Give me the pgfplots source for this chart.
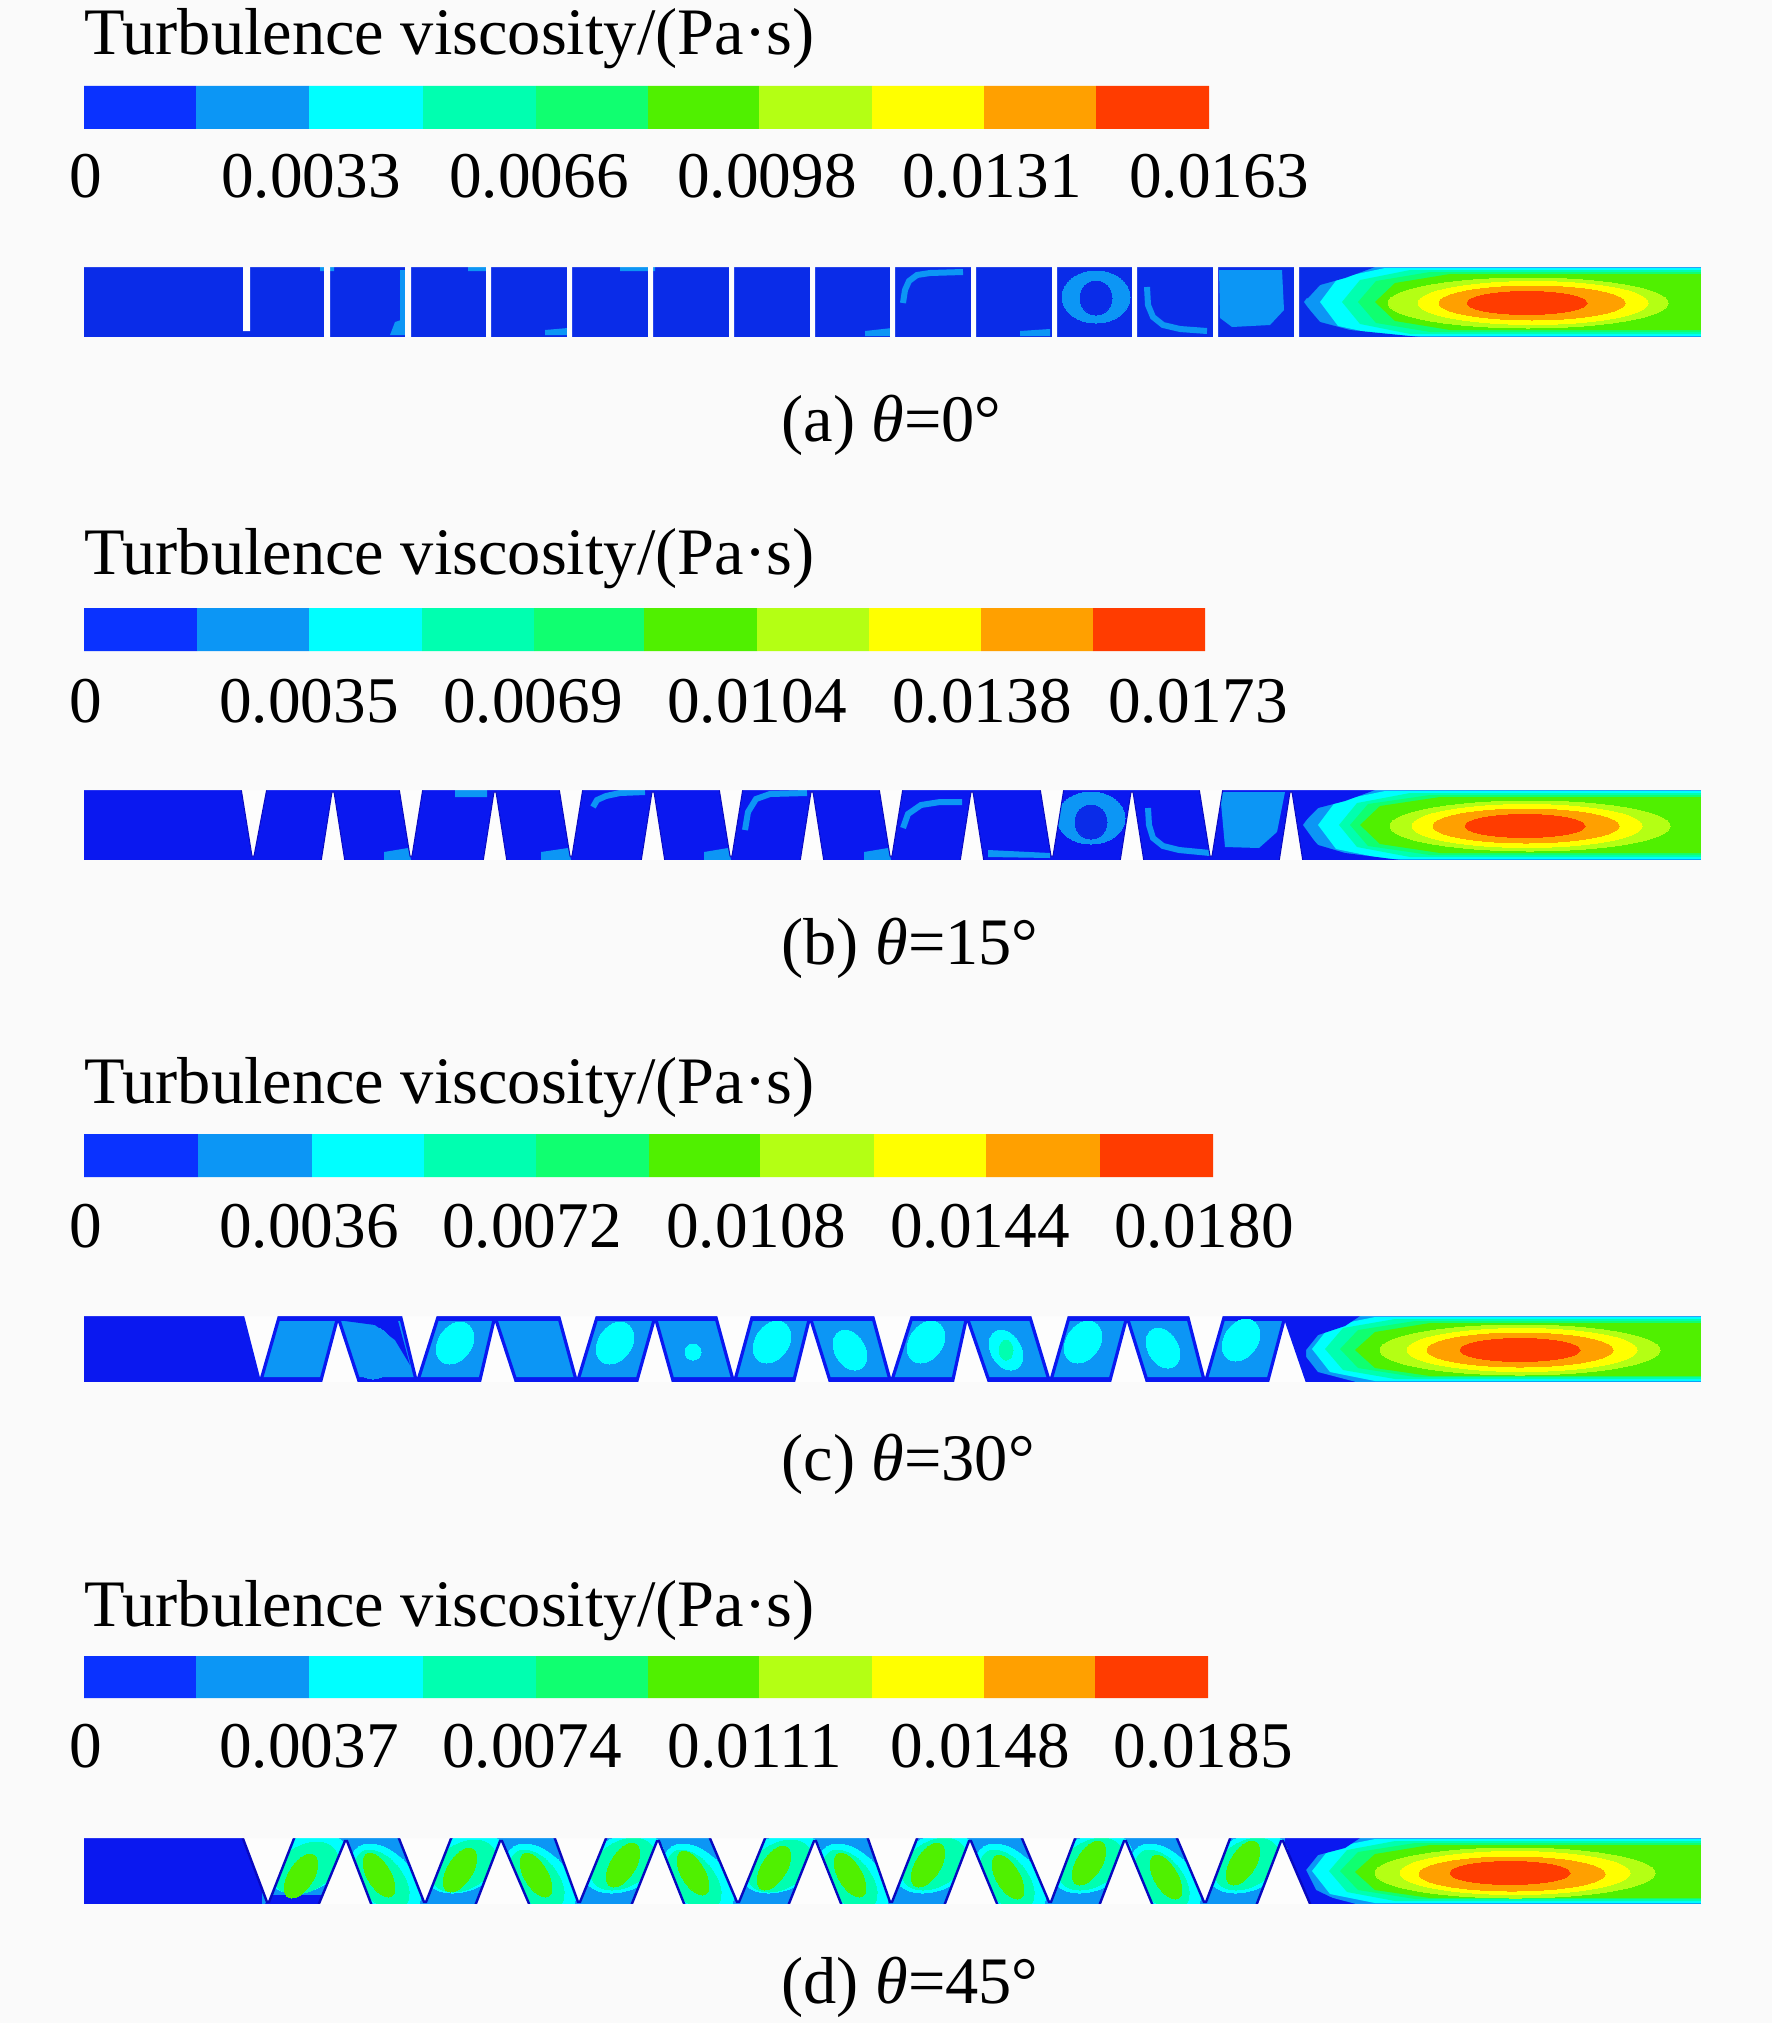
\documentclass[border=0pt]{standalone}
\usepackage{pgfplots}
\usepackage{fontspec}
\setmainfont{Liberation Serif}
\pgfplotsset{compat=1.18}
\definecolor{bg}{HTML}{FAFAFA}
\definecolor{slit}{HTML}{FDFDFD}
\definecolor{ca}{HTML}{0A2CE8}
\definecolor{cb}{HTML}{0A18F0}
\definecolor{deep}{HTML}{0808C0}
\definecolor{c0}{HTML}{0A32FF}
\definecolor{c1}{HTML}{0C96F5}
\definecolor{c2}{HTML}{00FFFF}
\definecolor{c3}{HTML}{00FFB0}
\definecolor{c4}{HTML}{10FF70}
\definecolor{c5}{HTML}{50F000}
\definecolor{c6}{HTML}{B4FF14}
\definecolor{c7}{HTML}{FFFF00}
\definecolor{c8}{HTML}{FFA000}
\definecolor{c9}{HTML}{FF3C00}
\newcommand\poly[2]{\addplot[fill=#1,draw=none,forget plot] coordinates {#2};}
\newcommand\mk[5]{\addplot[#1,only marks,mark=*,mark size=1pt,mark options={xslant=#4,xscale=#2,yscale=#3,fill=#1,draw=#1,line width=0pt},forget plot] coordinates {#5};}
\newcommand\wdg[3]{\addplot[fill=slit,draw=#1,line width=#2,forget plot] coordinates {#3};}
\newcommand\tx[4]{\node[anchor=#1,inner sep=0pt,font=\fontsize{33.2}{36}\selectfont] at (axis cs:#2,#3) {#4};}
\newcommand\nm[3]{\node[anchor=base,inner sep=0pt,font=\fontsize{32.6}{36}\selectfont] at (axis cs:#1,#2) {#3};}
\begin{document}
\begin{tikzpicture}
\begin{axis}[width=886pt,height=1011.5pt,scale only axis,hide axis,unbounded coords=jump,clip mode=individual,
  xmin=0,xmax=1772,ymin=0,ymax=2023,y dir=reverse,enlargelimits=false]
\poly{bg}{(0,0)(1772,0)(1772,2023)(0,2023)}
% ---- colour bars, one series per colour
\poly{c0}{(84,86)(196,86)(196,129)(84,129)(nan,nan)(84,608)(197,608)(197,651)(84,651)(nan,nan)(84,1134)(198,1134)(198,1177)(84,1177)(nan,nan)(84,1656)(196,1656)(196,1698)(84,1698)}
\poly{c1}{(196,86)(309,86)(309,129)(196,129)(nan,nan)(197,608)(309,608)(309,651)(197,651)(nan,nan)(198,1134)(312,1134)(312,1177)(198,1177)(nan,nan)(196,1656)(309,1656)(309,1698)(196,1698)}
\poly{c2}{(309,86)(423,86)(423,129)(309,129)(nan,nan)(309,608)(422,608)(422,651)(309,651)(nan,nan)(312,1134)(424,1134)(424,1177)(312,1177)(nan,nan)(309,1656)(423,1656)(423,1698)(309,1698)}
\poly{c3}{(423,86)(536,86)(536,129)(423,129)(nan,nan)(422,608)(534,608)(534,651)(422,651)(nan,nan)(424,1134)(536,1134)(536,1177)(424,1177)(nan,nan)(423,1656)(536,1656)(536,1698)(423,1698)}
\poly{c4}{(536,86)(648,86)(648,129)(536,129)(nan,nan)(534,608)(644,608)(644,651)(534,651)(nan,nan)(536,1134)(649,1134)(649,1177)(536,1177)(nan,nan)(536,1656)(648,1656)(648,1698)(536,1698)}
\poly{c5}{(648,86)(759,86)(759,129)(648,129)(nan,nan)(644,608)(757,608)(757,651)(644,651)(nan,nan)(649,1134)(760,1134)(760,1177)(649,1177)(nan,nan)(648,1656)(759,1656)(759,1698)(648,1698)}
\poly{c6}{(759,86)(872,86)(872,129)(759,129)(nan,nan)(757,608)(869,608)(869,651)(757,651)(nan,nan)(760,1134)(874,1134)(874,1177)(760,1177)(nan,nan)(759,1656)(872,1656)(872,1698)(759,1698)}
\poly{c7}{(872,86)(984,86)(984,129)(872,129)(nan,nan)(869,608)(981,608)(981,651)(869,651)(nan,nan)(874,1134)(986,1134)(986,1177)(874,1177)(nan,nan)(872,1656)(984,1656)(984,1698)(872,1698)}
\poly{c8}{(984,86)(1096,86)(1096,129)(984,129)(nan,nan)(981,608)(1093,608)(1093,651)(981,651)(nan,nan)(986,1134)(1100,1134)(1100,1177)(986,1177)(nan,nan)(984,1656)(1095,1656)(1095,1698)(984,1698)}
\poly{c9}{(1096,86)(1209,86)(1209,129)(1096,129)(nan,nan)(1093,608)(1205,608)(1205,651)(1093,651)(nan,nan)(1100,1134)(1213,1134)(1213,1177)(1100,1177)(nan,nan)(1095,1656)(1208,1656)(1208,1698)(1095,1698)}
% ---- channels
\poly{ca}{(84,267)(1701,267)(1701,337)(84,337)}
\poly{cb}{(84,790)(1701,790)(1701,860)(84,860)(nan,nan)(84,1316)(1701,1316)(1701,1382)(84,1382)(nan,nan)(84,1838)(1701,1838)(1701,1904)(84,1904)}
\poly{c1}{(262,1321)(1305,1321)(1305,1377)(262,1377)(nan,nan)(262,1838)(1310,1838)(1310,1904)(262,1904)}
% ---- plumes: outer contour bands
\poly{c1}{(1304,302)(1322,277)(1365,266)(1730,266)(1730,338)(1365,338)(1322,327)(nan,nan)(1303,825)(1321,800)(1365,789)(1730,789)(1730,861)(1365,861)(1321,850)(nan,nan)(1300,1349)(1318,1326)(1360,1315)(1730,1315)(1730,1383)(1360,1383)(1318,1372)(nan,nan)(1300,1871)(1318,1848)(1360,1837)(1730,1837)(1730,1905)(1360,1905)(1318,1894)}
\poly{c2}{(1320,302)(1338,278)(1385,268)(1730,268)(1730,336)(1385,336)(1338,326)(nan,nan)(1318,825)(1336,801)(1385,791)(1730,791)(1730,859)(1385,859)(1336,849)(nan,nan)(1312,1349)(1330,1326)(1375,1317)(1730,1317)(1730,1381)(1375,1381)(1330,1372)(nan,nan)(1312,1871)(1330,1848)(1375,1839)(1730,1839)(1730,1903)(1375,1903)(1330,1894)}
\poly{c3}{(1342,302)(1360,280)(1410,270)(1730,270)(1730,334)(1410,334)(1360,324)(nan,nan)(1339,825)(1357,803)(1410,793)(1730,793)(1730,857)(1410,857)(1357,847)(nan,nan)(1325,1349)(1343,1328)(1395,1319)(1730,1319)(1730,1379)(1395,1379)(1343,1370)(nan,nan)(1329,1871)(1347,1850)(1395,1841)(1730,1841)(1730,1901)(1395,1901)(1347,1892)}
\poly{c4}{(1358,302)(1376,281)(1430,272)(1730,272)(1730,332)(1430,332)(1376,323)(nan,nan)(1350,825)(1368,804)(1430,795)(1730,795)(1730,855)(1430,855)(1368,846)(nan,nan)(1340,1349)(1358,1330)(1415,1321)(1730,1321)(1730,1377)(1415,1377)(1358,1368)(nan,nan)(1340,1871)(1358,1852)(1415,1843)(1730,1843)(1730,1899)(1415,1899)(1358,1890)}
\poly{c5}{(1375,302)(1395,283)(1450,274)(1730,274)(1730,330)(1450,330)(1395,321)(nan,nan)(1360,825)(1380,806)(1440,797)(1730,797)(1730,853)(1440,853)(1380,844)(nan,nan)(1355,1350)(1375,1332)(1430,1323)(1730,1323)(1730,1376)(1430,1376)(1375,1368)(nan,nan)(1355,1872)(1375,1854)(1430,1845)(1730,1845)(1730,1898)(1430,1898)(1375,1890)}
% ---- plumes: inner contours
\mk{c6}{70}{12.5}{0}{(1528,303)(1530,826)(1520,1350)(1515,1873)}
\mk{c7}{57.5}{10.75}{0}{(1533,303)(1527,826)(1522,1350)(1515,1873)}
\mk{c8}{46.5}{8.5}{0}{(1532,303)(1526,826)(1520,1350)(1512,1874)}
\mk{c9}{30}{5.75}{0}{(1527,303)(1525,826)(1520,1350)(1510,1873)}
\poly{ca}{(1298,267)(1375,267)(1345,278)(1320,285)(1308,298)(1298,298)(nan,nan)(1298,337)(1420,337)(1350,330)(1320,322)(1308,308)(1298,308)}
\poly{cb}{(1298,790)(1375,790)(1345,801)(1318,808)(1306,820)(1298,820)(nan,nan)(1298,860)(1400,860)(1345,853)(1318,845)(1306,832)(1298,832)(nan,nan)(1285,1316)(1360,1316)(1345,1326)(1318,1335)(1306,1350)(1306,1382)(1285,1382)(nan,nan)(1285,1838)(1360,1838)(1345,1848)(1318,1855)(1306,1870)(1316,1890)(1345,1904)(1285,1904)(nan,nan)(345,1321)(398,1321)(410,1365)(395,1340)(375,1325)(nan,nan)(272,1895)(325,1895)(320,1904)(265,1904)}
% ---- cells of panels a and b
\mk{c1}{17}{13}{0}{(1096,297)(1091,818)}
\mk{ca}{8}{8.5}{0}{(1096,298)(1091,822)}
\poly{c1}{(1219,270)(1282,270)(1284,310)(1270,325)(1232,327)(1220,318)(nan,nan)(395,322)(407,318)(407,335)(390,335)(nan,nan)(400,270)(405,270)(405,320)(400,320)(nan,nan)(545,330)(568,328)(568,335)(545,335)(nan,nan)(468,267)(490,267)(490,271)(468,271)(nan,nan)(620,267)(655,267)(655,271)(620,271)(nan,nan)(320,267)(334,267)(334,271)(320,271)(nan,nan)(865,331)(892,328)(892,336)(865,336)(nan,nan)(1020,331)(1050,329)(1050,336)(1020,336)(nan,nan)(455,790)(487,790)(487,797)(455,797)(nan,nan)(384,852)(408,848)(411,860)(384,860)(nan,nan)(541,852)(568,848)(571,860)(541,860)(nan,nan)(704,852)(728,848)(731,860)(704,860)(nan,nan)(864,852)(888,848)(891,860)(864,860)(nan,nan)(988,850)(1050,853)(1050,858)(988,857)(nan,nan)(1220,792)(1285,792)(1277,832)(1259,848)(1225,847)}
\addplot[draw=c1,line width=3pt,forget plot] coordinates {(903,303)(905,290)(909,281)(917,275)(930,273)(963,272)(nan,nan)(1147,287)(1148,305)(1153,317)(1163,325)(1180,329)(1207,331)(nan,nan)(593,807)(597,800)(606,796)(620,793)(645,792)(nan,nan)(745,830)(748,812)(756,799)(770,794)(807,793)(nan,nan)(903,828)(908,814)(921,805)(940,802)(962,802)(nan,nan)(1148,808)(1149,825)(1153,838)(1163,846)(1179,850)(1210,853)};
% ---- cells of panel c
\mk{c1}{10.5}{13}{0}{(373,1353)}
\mk{c2}{9}{10.5}{0.25}{(455,1343)(615,1343)(772,1342)(926,1342)(1083,1342)(1241,1340)}
\mk{c2}{8}{10}{-0.25}{(1006,1350)(1163,1348)(850,1350)}
\mk{c2}{4}{4}{0}{(693,1352)}
\mk{c3}{3.5}{5}{0}{(1006,1350)}
% ---- cells of panel d
\mk{c2}{19}{15}{0.42}{(307,1863)(465,1863)(624,1863)(781,1863)(935,1863)(1092,1863)(1248,1863)}
\mk{c3}{15}{13}{0.42}{(306,1868)(464,1866)(623,1864)(780,1866)(934,1864)(1091,1864)(1247,1864)}
\mk{c5}{7}{11}{0.42}{(301,1876)(460,1870)(623,1865)(774,1868)(928,1865)(1089,1863)(1243,1863)}
\mk{c2}{16}{18}{-0.42}{(385,1880)(540,1880)(698,1880)(853,1880)(1010,1880)(1165,1880)}
\mk{c3}{12}{15}{-0.42}{(382,1880)(537,1880)(694,1880)(850,1880)(1007,1880)(1162,1880)}
\mk{c5}{6.5}{11}{-0.42}{(379,1875)(536,1875)(693,1873)(850,1875)(1008,1877)(1166,1877)}
% ---- blades
\poly{slit}{(243,265)(250,265)(250,331)(243,331)(nan,nan)(324,265)(330,265)(330,339)(324,339)(nan,nan)(405,265)(411,265)(411,339)(405,339)(nan,nan)(486,265)(491,265)(491,339)(486,339)(nan,nan)(567,265)(572,265)(572,339)(567,339)(nan,nan)(648,265)(653,265)(653,339)(648,339)(nan,nan)(729,265)(734,265)(734,339)(729,339)(nan,nan)(810,265)(815,265)(815,339)(810,339)(nan,nan)(890,265)(895,265)(895,339)(890,339)(nan,nan)(971,265)(976,265)(976,339)(971,339)(nan,nan)(1052,265)(1057,265)(1057,339)(1052,339)(nan,nan)(1132,265)(1137,265)(1137,339)(1132,339)(nan,nan)(1213,265)(1218,265)(1218,339)(1213,339)(nan,nan)(1294,265)(1299,265)(1299,339)(1294,339)}
\wdg{deep}{0.5pt}{(241,788)(252,856)(254,856)(267,788)(nan,nan)(321,862)(332,792)(334,792)(345,862)(nan,nan)(399,788)(410,856)(412,856)(423,788)(nan,nan)(483,862)(494,792)(496,792)(507,862)(nan,nan)(559,788)(570,856)(572,856)(583,788)(nan,nan)(641,862)(652,792)(654,792)(665,862)(nan,nan)(719,788)(730,856)(732,856)(743,788)(nan,nan)(800,862)(811,792)(813,792)(824,862)(nan,nan)(879,788)(890,856)(892,856)(903,788)(nan,nan)(960,862)(971,792)(973,792)(984,862)(nan,nan)(1040,788)(1051,856)(1053,856)(1064,788)(nan,nan)(1120,862)(1131,792)(1133,792)(1144,862)(nan,nan)(1199,788)(1210,856)(1212,856)(1223,788)(nan,nan)(1279,862)(1290,792)(1292,792)(1303,862)}
\wdg{cb}{1.6pt}{(242,1314)(259,1380)(261,1380)(280,1314)(nan,nan)(320,1384)(337,1320)(339,1320)(360,1384)(nan,nan)(400,1314)(416,1380)(418,1380)(439,1314)(nan,nan)(479,1384)(494,1320)(496,1320)(517,1384)(nan,nan)(558,1314)(576,1380)(578,1380)(598,1314)(nan,nan)(636,1384)(654,1320)(656,1320)(674,1384)(nan,nan)(715,1314)(733,1380)(735,1380)(753,1314)(nan,nan)(793,1384)(809,1320)(811,1320)(831,1384)(nan,nan)(872,1314)(890,1380)(892,1380)(913,1314)(nan,nan)(952,1384)(966,1320)(968,1320)(990,1384)(nan,nan)(1029,1314)(1049,1380)(1051,1380)(1070,1314)(nan,nan)(1109,1384)(1126,1320)(1128,1320)(1148,1384)(nan,nan)(1187,1314)(1204,1380)(1206,1380)(1225,1314)(nan,nan)(1267,1384)(1284,1320)(1286,1320)(1308,1384)}
\wdg{deep}{1.2pt}{(242,1836)(267,1902)(269,1902)(295,1836)(nan,nan)(318,1906)(345,1841)(347,1841)(372,1906)(nan,nan)(398,1836)(424,1902)(426,1902)(452,1836)(nan,nan)(475,1906)(500,1841)(502,1841)(530,1906)(nan,nan)(554,1836)(578,1902)(580,1902)(607,1836)(nan,nan)(631,1906)(657,1841)(659,1841)(685,1906)(nan,nan)(709,1836)(737,1902)(739,1902)(766,1836)(nan,nan)(788,1906)(814,1841)(816,1841)(842,1906)(nan,nan)(867,1836)(890,1902)(892,1902)(918,1836)(nan,nan)(944,1906)(969,1841)(971,1841)(998,1906)(nan,nan)(1021,1836)(1049,1902)(1051,1902)(1076,1836)(nan,nan)(1099,1906)(1124,1841)(1126,1841)(1153,1906)(nan,nan)(1176,1836)(1204,1902)(1206,1902)(1231,1836)(nan,nan)(1256,1906)(1281,1841)(1283,1841)(1311,1906)}
% ---- masks round the channels
\poly{bg}{(70,230)(1772,230)(1772,267)(70,267)(nan,nan)(70,337)(1772,337)(1772,370)(70,370)(nan,nan)(1701,230)(1772,230)(1772,370)(1701,370)(nan,nan)(70,750)(1772,750)(1772,790)(70,790)(nan,nan)(70,860)(1772,860)(1772,900)(70,900)(nan,nan)(1701,750)(1772,750)(1772,900)(1701,900)(nan,nan)(70,1280)(1772,1280)(1772,1316)(70,1316)(nan,nan)(70,1382)(1772,1382)(1772,1420)(70,1420)(nan,nan)(1701,1280)(1772,1280)(1772,1420)(1701,1420)(nan,nan)(70,1800)(1772,1800)(1772,1838)(70,1838)(nan,nan)(70,1904)(1772,1904)(1772,1940)(70,1940)(nan,nan)(1701,1800)(1772,1800)(1772,1940)(1701,1940)}
% ---- text
\tx{base west}{84}{55}{Turbulence viscosity/(Pa·s)}
\tx{base west}{84}{574}{Turbulence viscosity/(Pa·s)}
\tx{base west}{84}{1103}{Turbulence viscosity/(Pa·s)}
\tx{base west}{84}{1626}{Turbulence viscosity/(Pa·s)}
\nm{86}{198}{0}\nm{311}{198}{0.0033}\nm{539}{198}{0.0066}\nm{767}{198}{0.0098}\nm{992}{198}{0.0131}\nm{1219}{198}{0.0163}
\nm{86}{722}{0}\nm{309}{722}{0.0035}\nm{533}{722}{0.0069}\nm{757}{722}{0.0104}\nm{982}{722}{0.0138}\nm{1198}{722}{0.0173}
\nm{86}{1247}{0}\nm{309}{1247}{0.0036}\nm{532}{1247}{0.0072}\nm{756}{1247}{0.0108}\nm{980}{1247}{0.0144}\nm{1204}{1247}{0.0180}
\nm{86}{1767}{0}\nm{309}{1767}{0.0037}\nm{532}{1767}{0.0074}\nm{755}{1767}{0.0111}\nm{980}{1767}{0.0148}\nm{1203}{1767}{0.0185}
\tx{base west}{781}{441}{(a) {\itshape θ}=0°}
\tx{base west}{781}{964}{(b) {\itshape θ}=15°}
\tx{base west}{781}{1480}{(c) {\itshape θ}=30°}
\tx{base west}{781}{2003}{(d) {\itshape θ}=45°}
\end{axis}
\end{tikzpicture}
\end{document}
